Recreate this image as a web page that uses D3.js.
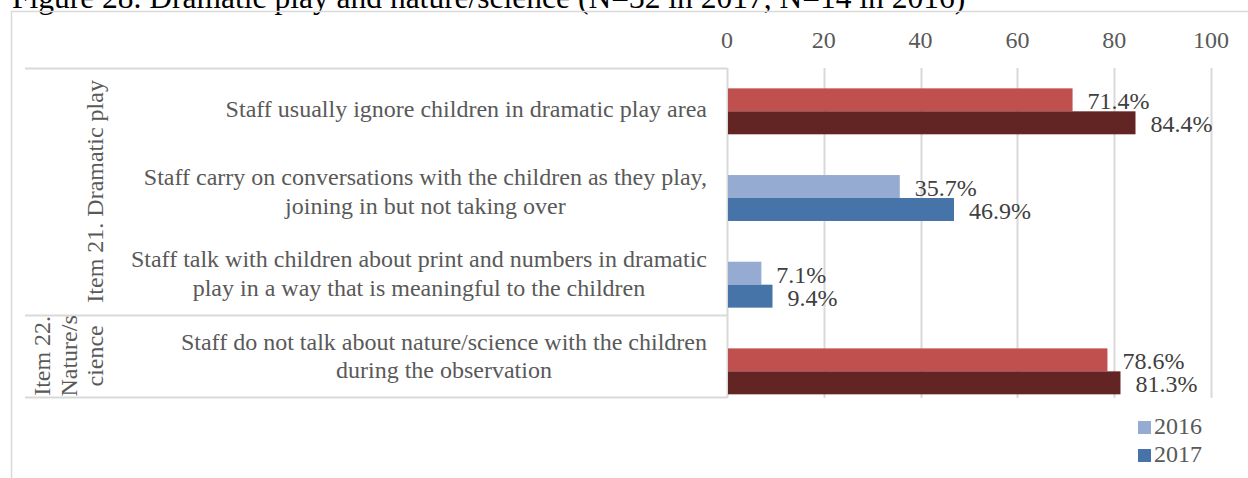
<!DOCTYPE html>
<html lang="en">
<head>
    <meta charset="UTF-8">
    <title>Figure 28</title>
    <script src="https://cdn.jsdelivr.net/npm/d3@7"></script>
    <style>
        html, body { margin: 0; padding: 0; background: #fff; overflow: hidden; }
        text { font-family: "Liberation Serif", "Times New Roman", serif; }
    </style>
</head>
<body>
<svg id="chart" width="1248" height="478"></svg>

<script>

    // data
    var categories = [
        "Staff usually ignore children in dramatic play area",
        "Staff carry on conversations with the children as they play,\njoining in but not taking over",
        "Staff talk with children about print and numbers in dramatic\nplay in a way that is meaningful to the children",
        "Staff do not talk about nature/science with the children\nduring the observation"
    ];
    var groups = [
        {lines: ["Item 21. Dramatic play"], from: 0, to: 2},
        {lines: ["Item 22.", "Nature/s", "cience"], from: 3, to: 3}
    ];
    var years = ["2016", "2017"];
    var values2016 = [71.4, 35.7, 7.1, 78.6];
    var values2017 = [84.4, 46.9, 9.4, 81.3];
    var ticks = [0, 20, 40, 60, 80, 100];

    // colours per row: [2016, 2017]
    var rowColors = [
        ["#c0504d", "#632523"],
        ["#95abd2", "#4674a8"],
        ["#95abd2", "#4674a8"],
        ["#c0504d", "#632523"]
    ];
    var legendColors = ["#95abd2", "#4674a8"];

    var svg = d3.select("#chart");
    var gridColor = "#d9d9d9",
        textColor = "#595959",
        fs = 24;

    var x = d3.scaleLinear().domain([0, 100]).range([727, 1211]);

    // label rows (category axis) and bar rows (Excel offsets them a little)
    var yLabel = d3.scaleBand().domain(d3.range(categories.length)).range([68, 397]);
    var yBar = d3.scaleBand().domain(d3.range(categories.length))
        .range([68, 414.7]).paddingInner(0.47).paddingOuter(0.235);
    var ySub = d3.scaleBand().domain(years).range([0, yBar.bandwidth()]);

    // title (cut off at the top in the picture)
    svg.append("text")
        .attr("x", 12)
        .attr("y", 8)
        .attr("font-size", 31.5)
        .attr("fill", "#000")
        .text("Figure 28. Dramatic play and nature/science (N=32 in 2017, N=14 in 2016)");

    // chart frame
    svg.append("path")
        .attr("d", "M11.5,478V11.5H1248")
        .attr("fill", "none")
        .attr("stroke", gridColor)
        .attr("stroke-width", 1.5);

    // vertical gridlines
    svg.append("g")
        .selectAll("line")
        .data(ticks)
        .enter().append("line")
        .attr("x1", function (d) { return Math.round(x(d)) + 0.5; })
        .attr("x2", function (d) { return Math.round(x(d)) + 0.5; })
        .attr("y1", 68)
        .attr("y2", 398)
        .attr("stroke", gridColor)
        .attr("stroke-width", 2);

    // tick labels on top
    svg.append("g")
        .selectAll("text")
        .data(ticks)
        .enter().append("text")
        .attr("x", function (d) { return x(d); })
        .attr("y", 48)
        .attr("text-anchor", "middle")
        .attr("font-size", fs)
        .attr("fill", textColor)
        .text(function (d) { return d; });

    // category table lines
    var divY = [68, yLabel(3), 397];
    svg.append("g")
        .selectAll("line")
        .data(divY)
        .enter().append("line")
        .attr("x1", 25)
        .attr("x2", 727)
        .attr("y1", function (d) { return Math.round(d) + 0.5; })
        .attr("y2", function (d) { return Math.round(d) + 0.5; })
        .attr("stroke", gridColor)
        .attr("stroke-width", 2);

    // category labels: lines centred on each other, block right aligned
    var labelRight = 707, lineH = 28.5;
    categories.forEach(function (c, i) {
        var lines = c.split("\n");
        var cy = yLabel(i) + yLabel.bandwidth() / 2;
        var t = svg.append("text")
            .attr("font-size", fs)
            .attr("fill", textColor)
            .attr("text-anchor", "middle");
        var spans = t.selectAll("tspan")
            .data(lines)
            .enter().append("tspan")
            .attr("y", function (d, j) { return cy + (j - (lines.length - 1) / 2) * lineH + 8; })
            .text(function (d) { return d; });
        var maxW = d3.max(spans.nodes(), function (n) { return n.getComputedTextLength(); });
        spans.attr("x", labelRight - maxW / 2);
    });

    // group labels, rotated
    groups.forEach(function (g) {
        var cy = (yLabel(g.from) + yLabel(g.to) + yLabel.bandwidth()) / 2;
        var n = g.lines.length;
        g.lines.forEach(function (l, j) {
            var bx = 103 - (n - 1 - j) * 26.5;
            svg.append("text")
                .attr("transform", "translate(" + bx + "," + cy + ") rotate(-90)")
                .attr("text-anchor", "middle")
                .attr("font-size", fs)
                .attr("fill", textColor)
                .text(l);
        });
    });

    // bars
    var rows = categories.map(function (c, i) {
        return [
            {row: i, year: "2016", value: values2016[i], color: rowColors[i][0]},
            {row: i, year: "2017", value: values2017[i], color: rowColors[i][1]}
        ];
    });
    var bars = svg.append("g")
        .selectAll("g")
        .data(rows)
        .enter().append("g")
        .attr("transform", function (d, i) { return "translate(0," + yBar(i) + ")"; });

    bars.selectAll("rect")
        .data(function (d) { return d; })
        .enter().append("rect")
        .attr("x", x(0) + 1)
        .attr("y", function (d) { return ySub(d.year); })
        .attr("width", function (d) { return x(d.value) - x(0) - 1; })
        .attr("height", ySub.bandwidth())
        .attr("fill", function (d) { return d.color; });

    bars.selectAll("text")
        .data(function (d) { return d; })
        .enter().append("text")
        .attr("x", function (d) { return x(d.value) + 15; })
        .attr("y", function (d) { return ySub(d.year) + ySub.bandwidth() / 2 + 9.5; })
        .attr("font-size", fs)
        .attr("fill", "#404040")
        .text(function (d) { return d.value.toFixed(1) + "%"; });

    // legend
    var legend = svg.append("g")
        .selectAll("g")
        .data(years)
        .enter().append("g")
        .attr("transform", function (d, i) { return "translate(1138," + (421 + i * 28) + ")"; });
    legend.append("rect")
        .attr("width", 13)
        .attr("height", 13)
        .attr("fill", function (d, i) { return legendColors[i]; });
    legend.append("text")
        .attr("x", 16)
        .attr("y", 13)
        .attr("font-size", fs)
        .attr("fill", textColor)
        .text(function (d) { return d; });

</script>

</body>
</html>
